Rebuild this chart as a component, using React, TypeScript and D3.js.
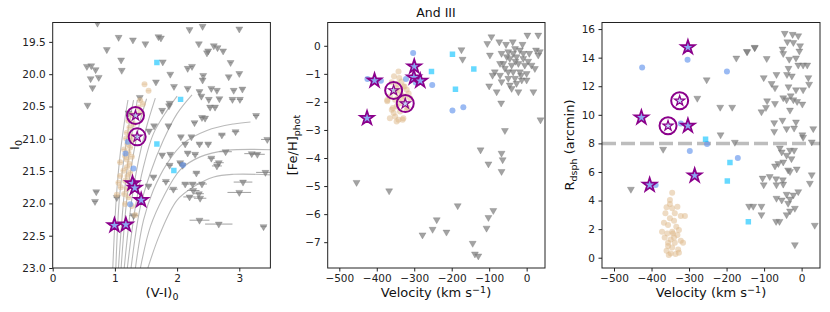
import { useEffect, useRef } from 'react';
import * as d3 from 'd3';

const W = 830;
const H = 312;

// ---- left panel: colour-magnitude diagram, [(V-I)0, I0, colour error]
const cmdNonMembers: number[][] = [
  [0.72, 19.21, 0.01], [1.06, 19.43, 0.01], [1.29, 19.47, 0.01], [1.49, 19.53, 0.01],
  [1.70, 19.42, 0.01], [1.74, 19.44, 0.01], [2.20, 19.31, 0.01], [2.41, 19.26, 0.01],
  [3.00, 19.30, 0.02], [2.35, 19.53, 0.01], [0.87, 19.62, 0.01], [2.50, 19.64, 0.01],
  [2.48, 19.67, 0.01], [2.59, 19.56, 0.01], [2.65, 19.59, 0.01], [2.74, 19.64, 0.02],
  [1.10, 19.78, 0.01], [1.11, 19.94, 0.01], [0.55, 19.88, 0.01], [0.62, 19.87, 0.01],
  [0.69, 19.93, 0.01], [0.61, 20.07, 0.01], [0.74, 20.05, 0.01], [0.64, 20.21, 0.01],
  [0.56, 20.48, 0.01], [1.77, 19.81, 0.01], [2.17, 19.91, 0.02], [2.24, 19.88, 0.02],
  [2.86, 19.82, 0.02], [3.00, 19.99, 0.02], [2.83, 20.04, 0.02], [1.89, 20.00, 0.02],
  [1.66, 20.12, 0.02], [1.95, 20.19, 0.02], [2.17, 20.22, 0.02], [2.36, 20.27, 0.02],
  [2.41, 20.09, 0.02], [2.42, 20.02, 0.02], [2.55, 20.22, 0.02], [2.64, 20.25, 0.02],
  [2.91, 20.25, 0.03], [3.05, 20.23, 0.03], [2.39, 20.34, 0.03], [2.51, 20.39, 0.03],
  [2.68, 20.38, 0.03], [2.89, 20.39, 0.05], [3.01, 20.39, 0.05], [1.88, 20.45, 0.03],
  [1.87, 20.49, 0.03], [2.53, 20.51, 0.04], [2.61, 20.51, 0.04], [1.76, 20.56, 0.03],
  [1.40, 20.36, 0.02], [1.22, 20.60, 0.02], [1.55, 20.88, 0.03], [1.63, 20.80, 0.03],
  [1.86, 20.80, 0.03], [2.28, 20.75, 0.04], [2.40, 20.67, 0.04], [2.45, 20.68, 0.04],
  [3.27, 20.64, 0.05], [2.72, 20.94, 0.06], [2.94, 20.89, 0.06], [2.06, 20.97, 0.04],
  [2.23, 20.97, 0.04], [2.13, 21.08, 0.04], [2.36, 21.08, 0.05], [2.50, 21.08, 0.05],
  [1.76, 21.25, 0.04], [1.89, 21.24, 0.04], [2.17, 21.22, 0.05], [2.29, 21.24, 0.05],
  [2.55, 21.30, 0.06], [2.78, 21.20, 0.10], [3.20, 21.23, 0.12], [3.29, 21.24, 0.12],
  [3.45, 21.01, 0.10], [1.88, 21.41, 0.05], [2.05, 21.37, 0.05], [2.09, 21.41, 0.05],
  [2.67, 21.37, 0.08], [2.64, 21.42, 0.08], [2.31, 21.53, 0.06], [1.62, 21.59, 0.05],
  [3.42, 21.52, 0.15], [1.82, 21.66, 0.06], [1.54, 21.73, 0.05], [2.13, 21.70, 0.06],
  [2.25, 21.70, 0.08], [2.40, 21.70, 0.08], [3.06, 21.67, 0.15], [1.94, 21.78, 0.07],
  [2.26, 21.80, 0.10], [3.00, 21.83, 0.19], [2.20, 21.90, 0.10], [2.37, 21.92, 0.10],
  [2.35, 21.85, 0.08], [0.70, 21.82, 0.04], [0.68, 21.97, 0.04], [1.03, 21.91, 0.05],
  [1.30, 22.19, 0.07], [2.36, 22.26, 0.16], [2.67, 22.32, 0.22], [3.39, 22.36, 0.05],
];
const cmdMembers: number[][] = [
  [1.476, 20.154], [1.541, 20.257], [1.406, 20.402], [1.449, 20.463], [1.380, 20.515],
  [1.406, 20.597], [1.272, 20.633], [1.218, 20.721], [1.299, 20.773], [1.235, 20.824],
  [1.192, 20.906], [1.256, 20.958], [1.181, 20.994], [1.272, 21.030], [1.202, 21.082],
  [1.245, 21.133], [1.149, 21.164], [1.218, 21.216], [1.165, 21.267], [1.272, 21.277],
  [1.192, 21.319], [1.235, 21.391], [1.084, 21.365], [1.192, 21.442], [1.138, 21.494],
  [1.245, 21.525], [1.202, 21.576], [1.084, 21.576], [1.165, 21.648], [1.245, 21.664],
  [1.057, 21.679], [1.095, 21.751], [1.192, 21.777], [1.149, 21.854], [1.031, 21.865],
  [1.218, 21.906], [1.165, 22.009], [1.272, 22.040], [1.326, 22.179],
];
const cmdBlue: number[][] = [[1.208, 21.046], [1.17, 21.226], [1.299, 21.458], [1.245, 22.014], [2.093, 21.406]];
const cmdSquares: number[][] = [[1.675, 19.82], [2.056, 20.39], [1.675, 21.08], [1.948, 21.49]];
const cmdStars: number[][] = [[0.993, 22.34], [1.176, 22.33], [1.283, 21.69], [1.32, 21.76], [1.422, 21.95]];
const cmdCircled: number[][] = [[1.331, 20.64], [1.358, 20.97]];
const isochrones: number[][][] = [
  [[1.53, 23.0], [1.73, 22.46], [2.0, 21.95], [2.27, 21.74], [2.59, 21.59], [2.91, 21.55], [3.55, 21.56]],
  [[1.41, 23.0], [1.57, 22.36], [1.78, 21.9], [2.05, 21.48], [2.37, 21.28], [2.8, 21.18], [3.55, 21.17]],
  [[1.33, 23.0], [1.46, 22.26], [1.62, 21.79], [1.84, 21.38], [2.1, 21.07], [2.48, 20.87], [2.91, 20.77], [3.18, 20.74]],
  [[1.26, 23.0], [1.41, 22.05], [1.57, 21.53], [1.78, 21.02], [2.0, 20.61], [2.24, 20.32]],
  [[1.2, 23.0], [1.33, 22.05], [1.46, 21.43], [1.62, 20.92], [1.84, 20.56], [2.0, 20.34]],
  [[1.15, 23.0], [1.27, 21.95], [1.38, 21.33], [1.51, 20.81], [1.65, 20.37]],
  [[1.1, 23.0], [1.19, 21.95], [1.29, 21.28], [1.41, 20.71], [1.51, 20.38]],
  [[1.057, 23.0], [1.14, 21.95], [1.22, 21.28], [1.3, 20.76], [1.36, 20.4]],
  [[1.015, 23.0], [1.07, 21.95], [1.15, 21.28], [1.23, 20.76], [1.3, 20.4]],
  [[0.966, 23.0], [1.02, 21.95], [1.08, 21.28], [1.15, 20.76], [1.21, 20.4]],
];

// ---- middle panel: [velocity, [Fe/H]phot]
const fehNonMembers: number[][] = [
  [-454, -4.87], [-367, -5.17], [-174, -0.14], [-171, -0.48], [-184, -5.7], [-240, -6.2],
  [-251, -6.54], [-214, -6.64], [-278, -6.74], [-144, -7.04], [-138, -7.42], [-129, -7.49],
  [-123, -3.71], [-102, -4.21], [-67, -3.83], [-64, -4.06], [-67, -4.48], [-58, -3.02],
  [-89, -5.87], [-102, -6.12], [-107, -6.5], [37, -2.64], [-68, -2.04], [-80, -1.64],
  [-100, -1.43], [-22, -1.64], [18, -1.64],
  [-94, 0.32], [-105, 0.08], [-73, 0.14], [-55, 0.05], [-37, 0.14], [-11, 0.05], [2, 0.38],
  [31, 0.38], [25, -0.15], [31, -0.33], [7, -0.27], [-98, -0.33], [-67, -0.27], [-49, -0.21],
  [-31, -0.1], [-18, -0.15], [-45, -0.45], [-27, -0.39], [-9, -0.45], [4, -0.55], [-62, -0.63],
  [-40, -0.69], [-22, -0.63], [-5, -0.69], [13, -0.69], [22, -0.81], [-85, -0.93], [-91, -1.05],
  [-71, -1.05], [-49, -0.93], [-36, -0.93], [-18, -0.93], [0, -0.99], [-49, -1.16], [-31, -1.16],
  [-13, -1.22], [-67, -1.28], [-45, -1.4], [-27, -1.34], [-40, -1.52], [35, -0.21], [-71, -0.63],
  [-53, -0.39], [-9, -0.27], [-36, -0.27], [0, -1.22], [-58, -0.8], [-30, -0.55], [-15, -1.05],
];
const fehMembers: number[][] = [
  [-342, -0.92], [-354, -1.09], [-334, -1.27], [-329, -1.45], [-347, -1.51], [-320, -1.57],
  [-334, -1.75], [-365, -1.81], [-372, -1.98], [-351, -1.92], [-325, -1.81], [-311, -1.87],
  [-347, -2.16], [-360, -2.28], [-338, -2.34], [-320, -2.28], [-351, -2.52], [-365, -2.58],
  [-342, -2.64], [-329, -2.58], [-345, -1.35], [-340, -1.15], [-350, -1.65], [-330, -1.95],
  [-355, -2.4], [-337, -2.05], [-343, -1.85], [-347, -2.7], [-331, -2.64], [-357, -2.22],
  [-326, -1.45], [-338, -1.6], [-318, -2.2], [-360, -1.3], [-315, -1.7], [-372, -1.93],
];
const fehBlue: number[][] = [[-425, -1.18], [-389, -1.25], [-303, -0.26], [-322, -1.18], [-296, -1.31], [-252, -1.4], [-198, -2.31], [-169, -2.19]];
const fehSquares: number[][] = [[-254, -0.92], [-198, -0.3], [-190, -1.55], [-141, -0.83]];
const fehStars: number[][] = [[-406, -1.24], [-426, -2.58], [-300, -0.74], [-301, -1.13], [-284, -1.25]];
const fehCircled: number[][] = [[-355, -1.59], [-324, -2.06]];

// ---- right panel: [velocity, R_dsph]
const radNonMembers: number[][] = [
  [-45, 15.7], [-24, 15.63], [-9, 15.53], [-38, 15.11], [-22, 15.06], [-4, 14.83], [-6, 14.46],
  [-145, 14.41], [-125, 14.69], [-51, 14.6], [-49, 14.29], [-93, 13.94], [-33, 13.89], [-15, 13.98],
  [-9, 13.48], [4, 13.48], [15, 13.48], [-35, 13.25], [-67, 12.82], [-39, 12.82], [-26, 12.72],
  [-101, 12.6], [18, 12.6], [-80, 12.19], [-71, 11.89], [-35, 11.96], [20, 12.14], [-15, 11.75],
  [4, 11.75], [-49, 11.19], [-29, 11.33], [-40, 11.05], [-22, 11.05], [-12, 10.93], [-92, 10.98],
  [-71, 10.79], [-95, 10.51], [-107, 10.21], [-31, 10.33], [2, 10.75], [-51, 9.62], [-73, 9.45],
  [-15, 9.5], [-40, 9.03], [-20, 9.07], [-73, 8.84], [2, 8.6], [31, 9.03], [4, 8.43], [27, 8.1],
  [-58, 7.68], [-53, 7.4], [-31, 7.52], [-20, 7.52], [-40, 7.17], [-27, 6.93], [-49, 6.7],
  [-71, 6.42], [-62, 6.59], [-36, 6.14], [-13, 6.21], [-31, 6.03], [-85, 5.68], [-104, 5.57],
  [-68, 5.52], [-50, 5.45], [-101, 5.1], [-67, 5.1], [-49, 5.15], [27, 5.8], [22, 5.21],
  [-9, 4.62], [-40, 4.44], [-22, 4.39], [-31, 4.11], [-67, 4.16], [-53, 4.04], [-36, 3.81],
  [-18, 3.46], [-31, 3.27], [-140, 3.6], [-129, 3.6], [-107, 3.6], [-107, 3.01], [-68, 2.54],
  [-59, 2.54], [-40, 3.01], [35, 2.27], [-18, 0.91],
  [-455, 4.79], [-369, 7.59], [-278, 11.16], [-253, 12.45], [-217, 10.53], [-185, 10.53],
  [-216, 8.6], [-174, 13.97], [-146, 14.43], [-125, 14.72], [-178, 8.08],
];
const radMembers: number[][] = [
  [-345, 4.55], [-351, 4.04], [-360, 3.53], [-345, 3.46], [-331, 3.57], [-311, 2.92], [-322, 2.92],
  [-363, 3.11], [-351, 2.76], [-340, 2.59], [-356, 2.29], [-334, 2.17], [-372, 1.82], [-358, 1.7],
  [-345, 1.82], [-331, 1.59], [-365, 1.42], [-349, 1.28], [-322, 1.19], [-338, 1.05], [-356, 0.82],
  [-345, 0.72], [-329, 0.58], [-360, 0.49], [-349, 0.3], [-336, 0.26], [-327, 0.35], [-354, 0.19],
  [-343, 1.7], [-351, 3.76], [-338, 3.11], [-367, 2.45], [-327, 1.94], [-340, 1.42], [-316, 1.05],
  [-356, 1.05],
];
const radBlue: number[][] = [[-425, 13.31], [-389, 5.09], [-304, 13.85], [-322, 9.39], [-298, 7.47], [-252, 7.96], [-199, 13.03], [-170, 6.98]];
const radSquares: number[][] = [[-256, 8.29], [-191, 6.66], [-198, 5.37], [-142, 2.52]];
const radStars: number[][] = [[-303, 14.72], [-427, 9.81], [-303, 9.23], [-285, 5.75], [-405, 5.09]];
const radCircled: number[][] = [[-356, 9.23], [-325, 10.98]];
const radCut = 8;

// ---- ticks
const cmdXTicks = [0, 1, 2, 3];
const cmdYTicks = [19.5, 20.0, 20.5, 21.0, 21.5, 22.0, 22.5, 23.0];
const velTicks = [-500, -400, -300, -200, -100, 0];
const fehTicks = [0, -1, -2, -3, -4, -5, -6, -7];
const radTicks = [0, 2, 4, 6, 8, 10, 12, 14, 16];

const FONT = 'DejaVu Sans, sans-serif';
const GREY = '#808080';
const TAN = '#DEB887';
const BLUE = '#6495ED';
const CYAN = '#00BFFF';
const PURPLE = '#8B008B';

type Sel = d3.Selection<SVGGElement, unknown, null, undefined>;

function drawPanel(
  svg: d3.Selection<SVGSVGElement, unknown, null, undefined>,
  id: string,
  x: d3.ScaleLinear<number, number>,
  y: d3.ScaleLinear<number, number>,
  xTicks: number[],
  yTicks: number[],
  yFmt: (n: number) => string,
  layers: (g: Sel) => void,
) {
  const [x0, x1] = x.range();
  const [y0, y1] = y.range();
  svg.append('clipPath').attr('id', id)
    .append('rect').attr('x', x0).attr('y', y0).attr('width', x1 - x0).attr('height', y1 - y0);

  const plot = svg.append('g').attr('clip-path', `url(#${id})`);
  layers(plot);

  const xa = svg.append('g').attr('transform', `translate(0,${y1})`)
    .call(d3.axisBottom(x).tickValues(xTicks).tickSize(3.5).tickPadding(3.5).tickSizeOuter(0).tickFormat(d3.format('d') as any));
  const ya = svg.append('g').attr('transform', `translate(${x0},0)`)
    .call(d3.axisLeft(y).tickValues(yTicks).tickSize(3.5).tickPadding(3.5).tickSizeOuter(0).tickFormat(yFmt as any));
  [xa, ya].forEach(a => {
    a.select('.domain').remove();
    a.attr('font-family', FONT).attr('font-size', 10.5);
    a.selectAll('line').attr('stroke', '#222');
    a.selectAll('text').attr('fill', '#222');
  });

  svg.append('rect').attr('x', x0).attr('y', y0).attr('width', x1 - x0).attr('height', y1 - y0)
    .attr('fill', 'none').attr('stroke', '#222').attr('stroke-width', 1);
}

const triangle = d3.symbol().type(d3.symbolTriangle).size(21)();
const star = d3.symbol().type(d3.symbolStar).size(60)();
const smallStar = d3.symbol().type(d3.symbolStar).size(32)();
const square = d3.symbol().type(d3.symbolSquare).size(30)();

function markers(
  g: Sel,
  x: d3.ScaleLinear<number, number>,
  y: d3.ScaleLinear<number, number>,
  sets: { grey: number[][]; tan: number[][]; blue: number[][]; sq: number[][]; stars: number[][]; circled: number[][] },
) {
  g.append('g').selectAll('path').data(sets.grey).join('path')
    .attr('d', triangle)
    .attr('transform', d => `translate(${x(d[0])},${y(d[1])}) rotate(180)`)
    .attr('fill', GREY).attr('fill-opacity', 0.72)
    .attr('stroke', '#6a6a6a').attr('stroke-width', 0.6).attr('stroke-opacity', 0.5);

  g.append('g').selectAll('circle').data(sets.tan).join('circle')
    .attr('cx', d => x(d[0])).attr('cy', d => y(d[1])).attr('r', 3)
    .attr('fill', TAN).attr('fill-opacity', 0.5);

  g.append('g').selectAll('circle').data(sets.blue).join('circle')
    .attr('cx', d => x(d[0])).attr('cy', d => y(d[1])).attr('r', 3)
    .attr('fill', BLUE).attr('fill-opacity', 0.65);

  g.append('g').selectAll('path').data(sets.sq).join('path')
    .attr('d', square)
    .attr('transform', d => `translate(${x(d[0])},${y(d[1])})`)
    .attr('fill', CYAN).attr('fill-opacity', 0.6);

  g.append('g').selectAll('path').data(sets.stars).join('path')
    .attr('d', star)
    .attr('transform', d => `translate(${x(d[0])},${y(d[1])})`)
    .attr('fill', '#8aa8f0').attr('stroke', PURPLE).attr('stroke-width', 1.7)
    .attr('stroke-linejoin', 'miter');

  const c = g.append('g').selectAll('g').data(sets.circled).join('g')
    .attr('transform', d => `translate(${x(d[0])},${y(d[1])})`);
  c.append('circle').attr('r', 8.5).attr('fill', 'none').attr('stroke', PURPLE).attr('stroke-width', 2);
  c.append('path').attr('d', smallStar).attr('fill', BLUE).attr('fill-opacity', 0.4)
    .attr('stroke', PURPLE).attr('stroke-width', 1.2);
}

function addLabel(
  svg: d3.Selection<SVGSVGElement, unknown, null, undefined>,
  px: number, py: number, rotate: boolean,
  parts: [string, 'n' | 'sub' | 'sup'][],
) {
  const t = svg.append('text')
    .attr('transform', `translate(${px},${py})${rotate ? ' rotate(-90)' : ''}`)
    .attr('text-anchor', 'middle').attr('font-family', FONT).attr('font-size', 13).attr('fill', '#111');
  parts.forEach(([s, kind]) => {
    const sp = t.append('tspan').text(s);
    if (kind === 'sub') sp.attr('baseline-shift', '-25%').attr('font-size', 9.5);
    if (kind === 'sup') sp.attr('baseline-shift', '40%').attr('font-size', 9.5);
  });
}

export default function App() {
  const ref = useRef<SVGSVGElement>(null);

  useEffect(() => {
    if (!ref.current) return;
    const svg = d3.select(ref.current);
    svg.selectAll('*').remove();

    // ---- panel 1: CMD
    const x1 = d3.scaleLinear().domain([0, 3.5]).range([52.7, 270.4]);
    const y1 = d3.scaleLinear().domain([19.2, 23.0]).range([22.5, 268]);
    drawPanel(svg, 'clip-cmd', x1, y1, cmdXTicks, cmdYTicks, d3.format('.1f'), g => {
      const line = d3.line<number[]>().x(d => x1(d[0])).y(d => y1(d[1])).curve(d3.curveCatmullRom.alpha(0.5));
      g.append('g').selectAll('path').data(isochrones).join('path')
        .attr('d', d => line(d)).attr('fill', 'none').attr('stroke', '#bababa').attr('stroke-width', 1.1);
      g.append('g').selectAll('line').data(cmdNonMembers).join('line')
        .attr('x1', d => x1(d[0] - d[2])).attr('x2', d => x1(d[0] + d[2]))
        .attr('y1', d => y1(d[1])).attr('y2', d => y1(d[1]))
        .attr('stroke', '#a0a0a0').attr('stroke-width', 1);
      g.append('g').selectAll('line').data(cmdMembers).join('line')
        .attr('x1', d => x1(d[0] - 0.04)).attr('x2', d => x1(d[0] + 0.04))
        .attr('y1', d => y1(d[1])).attr('y2', d => y1(d[1]))
        .attr('stroke', TAN).attr('stroke-opacity', 0.5).attr('stroke-width', 1);
      markers(g, x1, y1, { grey: cmdNonMembers, tan: cmdMembers, blue: cmdBlue, sq: cmdSquares, stars: cmdStars, circled: cmdCircled });
    });
    addLabel(svg, 162, 297, false, [['(V-I)', 'n'], ['0', 'sub']]);
    addLabel(svg, 19, 145, true, [['I', 'n'], ['0', 'sub']]);

    // ---- panel 2: velocity vs [Fe/H]
    const x2 = d3.scaleLinear().domain([-531, 49]).range([327.7, 545]);
    const y2 = d3.scaleLinear().domain([0.83, -7.92]).range([22.5, 268]);
    drawPanel(svg, 'clip-feh', x2, y2, velTicks, fehTicks, d3.format('d'), g => {
      markers(g, x2, y2, { grey: fehNonMembers, tan: fehMembers, blue: fehBlue, sq: fehSquares, stars: fehStars, circled: fehCircled });
    });
    addLabel(svg, 436, 297, false, [['Velocity (km s', 'n'], ['\u22121', 'sup'], [')', 'n']]);
    addLabel(svg, 297, 145, true, [['[Fe/H]', 'n'], ['phot', 'sub']]);
    svg.append('text').attr('x', 436).attr('y', 17).attr('text-anchor', 'middle')
      .attr('font-family', FONT).attr('font-size', 12.5).attr('fill', '#111').text('And III');

    // ---- panel 3: velocity vs radius
    const x3 = d3.scaleLinear().domain([-532, 49]).range([602, 820]);
    const y3 = d3.scaleLinear().domain([16.46, -0.72]).range([22.5, 268]);
    drawPanel(svg, 'clip-rad', x3, y3, velTicks, radTicks, d3.format('d'), g => {
      g.append('line').attr('x1', x3.range()[0]).attr('x2', x3.range()[1])
        .attr('y1', y3(radCut)).attr('y2', y3(radCut))
        .attr('stroke', '#bdbdbd').attr('stroke-width', 3.5).attr('stroke-dasharray', '14,5');
      markers(g, x3, y3, { grey: radNonMembers, tan: radMembers, blue: radBlue, sq: radSquares, stars: radStars, circled: radCircled });
    });
    addLabel(svg, 711, 297, false, [['Velocity (km s', 'n'], ['\u22121', 'sup'], [')', 'n']]);
    addLabel(svg, 574, 145, true, [['R', 'n'], ['dsph', 'sub'], [' (arcmin)', 'n']]);
  }, []);

  return (
    <svg ref={ref} width={W} height={H} style={{ position: 'absolute', left: 0, top: 0, background: '#fff' }} />
  );
}
